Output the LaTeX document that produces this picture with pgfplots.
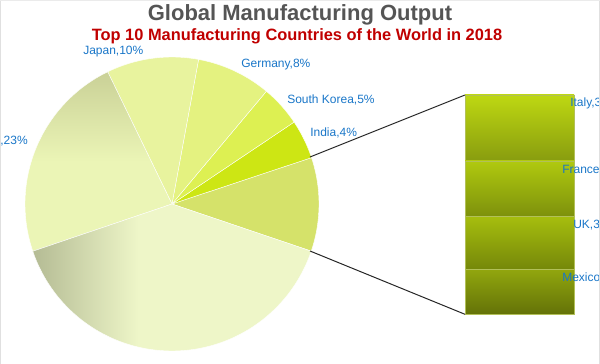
\documentclass[border=0pt]{standalone}
\usepackage{pgfplots}
\usepackage{pgfplotstable}
\pgfplotsset{compat=1.18}
\usepackage{fontspec}
\setmainfont{Liberation Sans}

\definecolor{lblblue}{RGB}{25,118,200}
\definecolor{titlegray}{RGB}{85,85,85}
\definecolor{subred}{RGB}{192,0,0}
\definecolor{cGroup}{RGB}{213,226,106}
\definecolor{cIndia}{RGB}{205,230,20}
\definecolor{cSK}{RGB}{221,240,82}
\definecolor{cGermany}{RGB}{228,242,128}
\definecolor{cJapan}{RGB}{232,243,158}
\definecolor{chL}{RGB}{235,245,182}
\definecolor{chD}{RGB}{203,210,152}
\definecolor{othL}{RGB}{238,246,200}
\definecolor{othD}{RGB}{180,187,148}
\definecolor{sepc}{RGB}{178,192,88}

\pgfdeclarehorizontalshading{othersShade}{100bp}{color(0bp)=(othD); color(25bp)=(othD); color(44bp)=(othL); color(100bp)=(othL)}
\pgfdeclareverticalshading{chinaShade}{100bp}{color(0bp)=(chL); color(50bp)=(chL); color(74bp)=(chD); color(100bp)=(chD)}

\pgfplotstableread{
country share
Group 10.3
India 4.3
SouthKorea 4.5
Germany 8.2
Japan 10.1
China 23.0
Others 39.6
}\piedata

\pgfmathsetmacro\acc{-18.7}
\xdef\acc{\acc}
\foreach \i/\n in {0/A,1/B,2/C,3/D,4/E,5/F,6/G}{%
  \pgfplotstablegetelem{\i}{share}\of\piedata
  \pgfmathsetmacro\eang{\acc+3.6*\pgfplotsretval}%
  \expandafter\xdef\csname pieS\n\endcsname{\acc}%
  \expandafter\xdef\csname pieE\n\endcsname{\eang}%
  \xdef\acc{\eang}%
}

\begin{document}
\begin{tikzpicture}
\useasboundingbox (0,0) rectangle (450pt,273pt);
\clip (0,0) rectangle (450pt,273pt);

% stacked bar (Mexico, UK, France, Italy from bottom)
\begin{axis}[at={(348.75pt,37.3pt)}, anchor=south west, scale only axis,
  width=81.75pt, height=164.45pt, xmin=-0.5, xmax=0.5, ymin=0, ymax=10.3,
  hide axis, ybar stacked, bar width=81.75pt, clip=false]
\addplot[draw=sepc, line width=0.5pt, top color={rgb,255:red,145;green,166;blue,14}, bottom color={rgb,255:red,100;green,114;blue,8}]
  coordinates {(0,2.1)};
\addplot[draw=sepc, line width=0.5pt, top color={rgb,255:red,166;green,190;blue,14}, bottom color={rgb,255:red,117;green,135;blue,10}]
  coordinates {(0,2.5)};
\addplot[draw=sepc, line width=0.5pt, top color={rgb,255:red,176;green,201;blue,15}, bottom color={rgb,255:red,125;green,145;blue,12}]
  coordinates {(0,2.6)};
\addplot[draw=sepc, line width=0.5pt, top color={rgb,255:red,190;green,216;blue,18}, bottom color={rgb,255:red,136;green,156;blue,15}]
  coordinates {(0,3.1)};
\end{axis}

\begin{axis}[at={(0,0)}, anchor=south west, scale only axis,
  width=450pt, height=273pt, xmin=0, xmax=600, ymin=0, ymax=364,
  y dir=reverse, hide axis, clip=false]
% pie slices
\addplot[draw=white, line width=0.3pt, fill=cGroup, domain=\pieSA:\pieEA, samples=40]
  ({172+147*cos(x)},{204-147*sin(x)}) -- (axis cs:172,204) -- cycle;
\addplot[draw=white, line width=0.3pt, fill=cIndia, domain=\pieSB:\pieEB, samples=20]
  ({172+147*cos(x)},{204-147*sin(x)}) -- (axis cs:172,204) -- cycle;
\addplot[draw=white, line width=0.3pt, fill=cSK, domain=\pieSC:\pieEC, samples=20]
  ({172+147*cos(x)},{204-147*sin(x)}) -- (axis cs:172,204) -- cycle;
\addplot[draw=white, line width=0.3pt, fill=cGermany, domain=\pieSD:\pieED, samples=30]
  ({172+147*cos(x)},{204-147*sin(x)}) -- (axis cs:172,204) -- cycle;
\addplot[draw=white, line width=0.3pt, fill=cJapan, domain=\pieSE:\pieEE, samples=40]
  ({172+147*cos(x)},{204-147*sin(x)}) -- (axis cs:172,204) -- cycle;
\addplot[draw=white, line width=0.3pt, shading=chinaShade, domain=\pieSF:\pieEF, samples=60]
  ({172+147*cos(x)},{204-147*sin(x)}) -- (axis cs:172,204) -- cycle;
\addplot[draw=white, line width=0.3pt, shading=othersShade, domain=\pieSG:\pieEG, samples=80]
  ({172+147*cos(x)},{204-147*sin(x)}) -- (axis cs:172,204) -- cycle;

% connector lines
\draw[color=black!85, line width=0.75pt] (axis cs:310,157) -- (axis cs:465,95);
\draw[color=black!85, line width=0.75pt] (axis cs:310,251) -- (axis cs:465,314.3);

% titles
\node[anchor=base, text=titlegray, font=\fontsize{16.5}{19}\selectfont\bfseries] at (axis cs:300,21) {Global Manufacturing Output};
\node[anchor=base, text=subred, font=\fontsize{12.3}{14}\selectfont\bfseries] at (axis cs:297,40.8) {Top 10 Manufacturing Countries of the World in 2018};

% labels
\begin{scope}[every node/.style={text=lblblue, font=\fontsize{9}{11}\selectfont, inner sep=0pt}]
\node[anchor=west] at (axis cs:83,52) {Japan,10\%};
\node[anchor=west] at (axis cs:241,65) {Germany,8\%};
\node[anchor=west] at (axis cs:287,100) {South Korea,5\%};
\node[anchor=west] at (axis cs:310,133) {India,4\%};
\node[anchor=east] at (axis cs:28,141) {China,23\%};
\node[anchor=west] at (axis cs:570,103) {Italy,3\%};
\node[anchor=west] at (axis cs:562,170) {France,3\%};
\node[anchor=west] at (axis cs:573,225) {UK,3\%};
\node[anchor=west] at (axis cs:562,278) {Mexico,2\%};
\end{scope}

% frame lines
\draw[color=black!12, line width=1.2pt] (axis cs:0.6,0) -- (axis cs:0.6,364);
\draw[color=black!12, line width=1.2pt] (axis cs:599.4,0) -- (axis cs:599.4,364);
\draw[color=black!8, line width=0.8pt] (axis cs:0,0.5) -- (axis cs:600,0.5);
\end{axis}
\end{tikzpicture}
\end{document}
